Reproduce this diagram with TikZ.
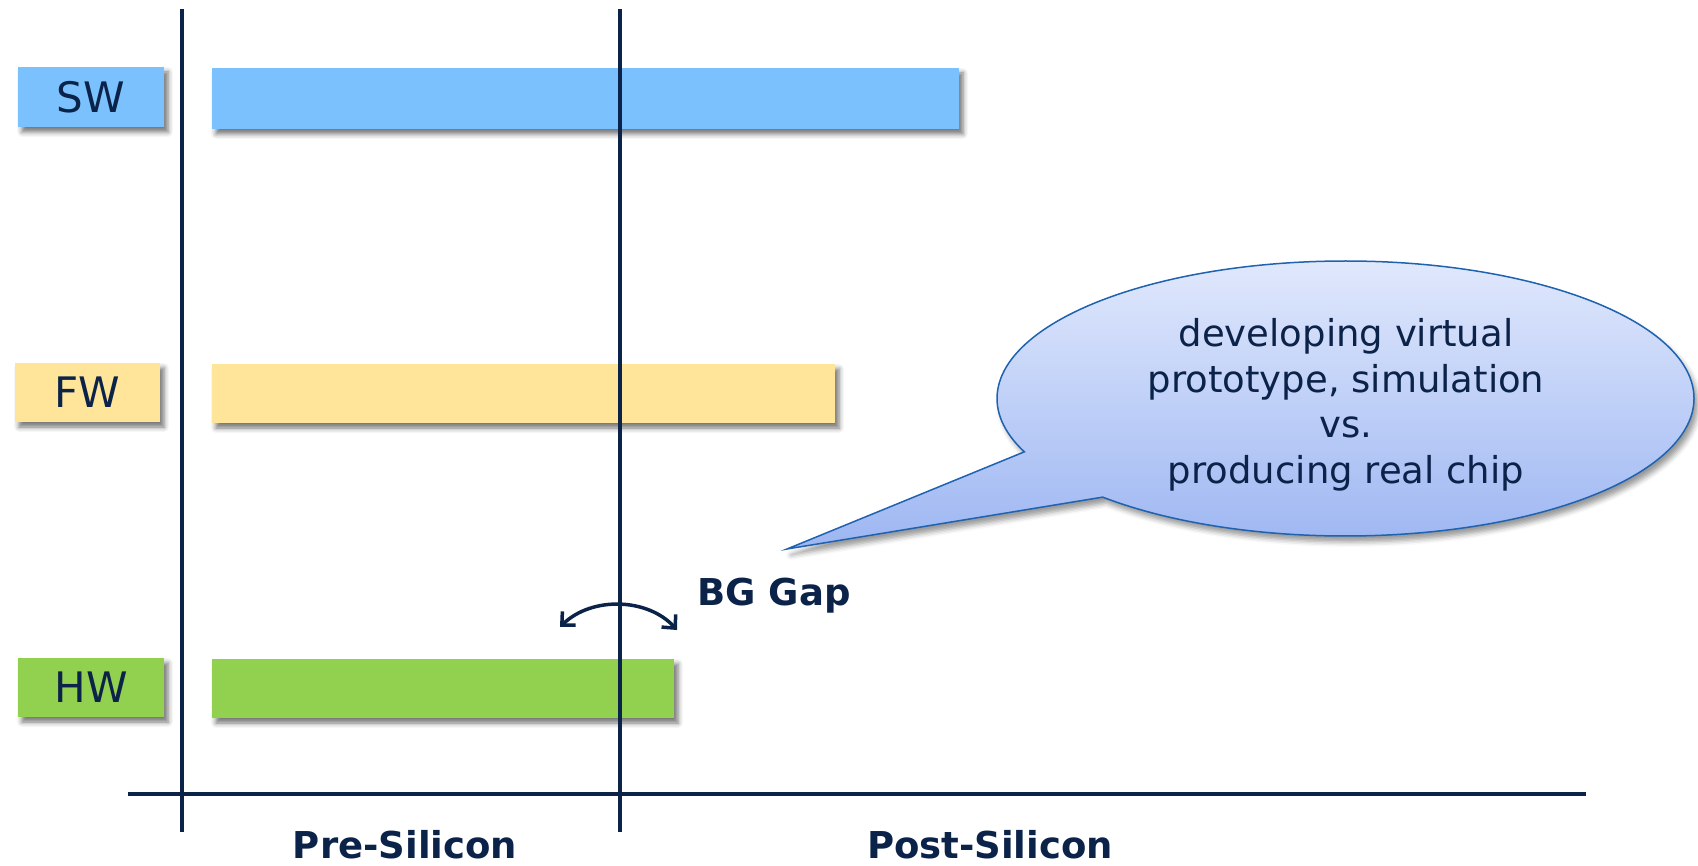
\documentclass[tikz,border=0pt]{standalone}
\usepackage{fontspec}
\setmainfont{DejaVu Sans}
\usetikzlibrary{shapes.callouts,shadows,shadows.blur,arrows.meta}
\definecolor{navy}{HTML}{0B2249}
\definecolor{swblue}{HTML}{7AC1FE}
\definecolor{fwyellow}{HTML}{FEE599}
\definecolor{hwgreen}{HTML}{92D050}
\definecolor{ctop}{HTML}{E0E8FC}
\definecolor{cbot}{HTML}{9DB6F2}
\definecolor{cedge}{HTML}{1F62B0}
\begin{document}
\begin{tikzpicture}[x=1pt,y=-1pt,
  box/.style={inner sep=0pt,outer sep=0pt,
    blur shadow={shadow xshift=4pt,shadow yshift=-5pt,shadow blur radius=5pt,shadow opacity=55}},
  lbl/.style={box,text=navy,font=\fontsize{42}{50}\selectfont},
  axisline/.style={draw=navy,line width=3.5pt},
  boldlbl/.style={text=navy,font=\fontsize{37}{44}\selectfont\bfseries,inner sep=0pt}]
\useasboundingbox (0,0) rectangle (1698,866);
% bars
\node[box,fill=swblue,minimum width=747pt,minimum height=61pt] (swbar) at (585.5,98.5) {};
\node[box,fill=fwyellow,minimum width=623pt,minimum height=59pt] (fwbar) at (523.5,393.5) {};
\node[box,fill=hwgreen,minimum width=462pt,minimum height=59pt] (hwbar) at (443,688.5) {};
% labels
\node[lbl,fill=swblue,minimum width=146pt,minimum height=60pt] (sw) at (91,97) {SW};
\node[lbl,fill=fwyellow,minimum width=145pt,minimum height=59pt] (fw) at (87.5,392.5) {FW};
\node[lbl,fill=hwgreen,minimum width=146pt,minimum height=59pt] (hw) at (91,687.5) {HW};
% axes
\coordinate (v1t) at (182,9);
\coordinate (v1b) at (182,832);
\coordinate (v2t) at (620,9);
\coordinate (v2b) at (620,832);
\coordinate (axl) at (128,794);
\coordinate (axr) at (1586,794);
\draw[axisline,line width=3.3pt] (v1t) -- (v1b);
\draw[axisline,line width=3.3pt] (v2t) -- (v2b);
\draw[axisline] (axl) -- (axr);
\node[boldlbl,anchor=base] (pre) at (405,858) {Pre-Silicon};
\node[boldlbl,anchor=base] (post) at (990,858) {Post-Silicon};
% gap arrow
\coordinate (ga) at (560,627);
\coordinate (gb) at (677,630);
\draw[navy,line width=3.5pt,{Straight Barb[length=10pt,width=19pt]}-{Straight Barb[length=10pt,width=19pt]}]
  (ga) .. controls (592,596) and (648,598) .. (gb);
\node[boldlbl,anchor=base west] (gap) at (697,605) {BG Gap};
% callout
\node[ellipse callout,draw=cedge,line width=1.5pt,top color=ctop,bottom color=cbot,
  minimum width=697pt,minimum height=275pt,inner sep=0pt,
  callout absolute pointer={(787,549)},callout pointer arc=23,
  blur shadow={shadow xshift=4pt,shadow yshift=-6pt,shadow blur radius=5pt,shadow opacity=40}]
  (bubble) at (1345.5,398.5) {};
\node[text=navy,align=center,inner sep=0pt,font=\fontsize{37}{45.5}\selectfont]
  (bubbletext) at (1346,405) {developing virtual\\prototype, simulation\\vs.\\producing real chip};
\end{tikzpicture}
\end{document}
